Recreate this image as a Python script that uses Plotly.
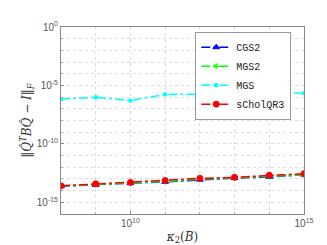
import plotly.graph_objects as go

kappa_exp = [8, 9, 10, 11, 12, 13, 14, 15]
cgs2_exp = [-13.62, -13.52, -13.36, -13.25, -13.06, -12.93, -12.83, -12.63]
mgs2_exp = [-13.60, -13.48, -13.33, -13.22, -13.03, -12.92, -12.80, -12.66]
mgs_exp = [-6.16, -6.02, -6.30, -5.77, -5.74, -5.57, -5.63, -5.66]
schol_exp = [-13.59, -13.42, -13.30, -13.13, -12.95, -12.86, -12.68, -12.55]

x_vals = [10 ** e for e in kappa_exp]

def pw(lst):
    return [10 ** v for v in lst]

series = [
    ("CGS2", cgs2_exp, "#0000ff", "triangle-up", 6),
    ("MGS2", mgs2_exp, "#00ff00", "asterisk-open", 5),
    ("MGS", mgs_exp, "#00ffff", "square", 3),
    ("sCholQR3", schol_exp, "#ff0000", "circle", 6),
]

fig = go.Figure()
for name, ys, col, sym, sz in series:
    fig.add_trace(go.Scatter(
        x=x_vals, y=pw(ys), name=name, mode="lines+markers",
        line=dict(color=col, width=1.5, dash="dashdot"),
        marker=dict(symbol=sym, size=sz, color=col, line=dict(color=col, width=1)),
    ))

y_lab_exp = [0, -5, -10, -15]
x_lab_exp = [10, 15]
y_grid = [10 ** e for e in range(-16, 1)]
x_grid = x_vals

axis_common = dict(
    showline=True, linecolor="#888888", linewidth=1, mirror=True,
    ticks="inside", ticklen=3, tickcolor="#888888",
    gridcolor="#dddddd", griddash="dot", gridwidth=1,
    zeroline=False, tickfont=dict(family="Liberation Sans, Arial", size=10, color="#555555"),
)
minor_common = dict(showgrid=True, gridcolor="#dddddd", griddash="dot", gridwidth=1,
                    ticks="inside", ticklen=2, tickcolor="#aaaaaa")

fig.update_xaxes(type="log", range=[8, 15],
                 tickvals=[10 ** e for e in x_lab_exp],
                 ticktext=["10<sup>%d</sup>" % e for e in x_lab_exp],
                 minor=dict(tickvals=x_grid, **minor_common),
                 title=dict(text="<i>κ</i><sub>2</sub>(<i>B</i>)", standoff=4,
                            font=dict(family="DejaVu Serif, serif", size=12, color="#333333")),
                 **axis_common)
fig.update_yaxes(type="log", range=[-16, 0],
                 tickvals=[10 ** e for e in y_lab_exp],
                 ticktext=["10<sup>%d</sup>" % e for e in y_lab_exp],
                 minor=dict(tickvals=y_grid, **minor_common),
                 title=dict(text="‖<i>Q̂</i><sup><i>T</i></sup><i>BQ̂</i> − <i>I</i>‖<sub><i>F</i></sub>",
                            standoff=2, font=dict(family="DejaVu Serif, serif", size=12, color="#333333")),
                 **axis_common)

fig.update_layout(
    width=327, height=245,
    margin=dict(l=53, r=31, t=19, b=36),
    paper_bgcolor="white", plot_bgcolor="white",
    showlegend=True,
    legend=dict(x=0.75, y=0.975, xanchor="center", yanchor="top",
                bgcolor="white", bordercolor="#999999", borderwidth=1,
                font=dict(family="Liberation Mono, Courier New, monospace", size=10, color="#222222"),
                tracegroupgap=0, itemwidth=30),
)

fig.write_html("out.html")
